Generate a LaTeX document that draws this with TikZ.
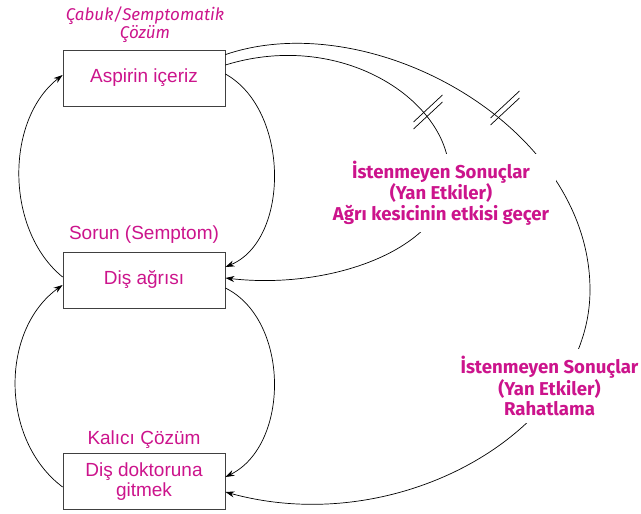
\documentclass[tikz,border=0pt]{standalone}
\usepackage{fontspec}
\setmainfont{Liberation Sans}
\newfontfamily\humfont{Fira Sans}
\usetikzlibrary{arrows.meta,calc}
\definecolor{mag}{RGB}{204,20,140}
\tikzset{
  box/.style={draw=black!75, line width=0.8pt, minimum width=162pt, minimum height=56pt, inner sep=0pt, text=mag, align=center, font=\fontsize{19}{20.5}\selectfont},
  tag/.style={text=mag, align=center, font=\fontsize{19}{20}\selectfont},
  itag/.style={text=mag, align=center, font=\humfont\itshape\fontsize{17}{18}\selectfont},
  btag/.style={text=mag, align=center, fill=white, inner sep=7pt, font=\humfont\bfseries\fontsize{18.6}{20.5}\selectfont},
  conn/.style={line width=0.7pt, -{Stealth[length=9pt,width=6pt]}},
  plain/.style={line width=0.7pt},
  slash/.style={line width=0.7pt}
}
\begin{document}
\begin{tikzpicture}[x=1pt,y=-1pt]
\useasboundingbox[fill=white] (0,0) rectangle (641,514);

% boxes
\node[box] (asp) at (144,78) {Aspirin içeriz};
\node[box] (dis) at (144,280) {Diş ağrısı};
\node[box] (dok) at (144,481.5) {Diş doktoruna\\gitmek};

% titles
\node[itag] (t1) at (145,25) {Çabuk/Semptomatik\\Çözüm};
\node[tag] (t2) at (144,235) {Sorun (Semptom)};
\node[tag] (t3) at (144,440) {Kalıcı Çözüm};

% loops
\draw[conn] ([yshift=3pt]dis.west) .. controls (5,230) and (5,120) .. ([yshift=3pt]asp.west);
\draw[conn] ([yshift=4pt]asp.east) .. controls (290,110) and (290,240) .. ([yshift=13pt]dis.east);
\draw[conn] ([yshift=-8pt]dis.east) .. controls (290,320) and (290,445) .. ([yshift=4.5pt]dok.east);
\draw[conn] ([yshift=-5.5pt]dok.west) .. controls (0,440) and (0,330) .. ([yshift=-5pt]dis.west);

% side-effect curves
\coordinate (ia) at (449,180);
\coordinate (oa) at (590,290);
\draw[plain] ([yshift=13pt]asp.east) .. controls (345,28) and (455,105) .. (ia);
\draw[conn] (ia) .. controls (443,250) and (330,290) .. ([yshift=2pt]dis.east);
\draw[plain] ([yshift=-5pt]asp.north east) .. controls (370,5) and (590,125) .. (oa);
\draw[conn] (oa) .. controls (590,430) and (400,540) .. ([yshift=-10.5pt]dok.east);

% labels over curves
\node[btag] (l1) at (441,193) {İstenmeyen Sonuçlar\\(Yan Etkiler)\\Ağrı kesicinin etkisi geçer};
\node[btag] (l2) at (549.5,386) {İstenmeyen Sonuçlar\\(Yan Etkiler)\\Rahatlama};

% delay marks
\coordinate (d1) at (428,112);
\coordinate (d2) at (505,108);
\foreach \c in {d1,d2}{
  \draw[slash] ($(\c)+(-14.5,10)$) -- ($(\c)+(14.5,-17)$);
  \draw[slash] ($(\c)+(-14.5,17)$) -- ($(\c)+(14.5,-10)$);
}
\end{tikzpicture}
\end{document}
